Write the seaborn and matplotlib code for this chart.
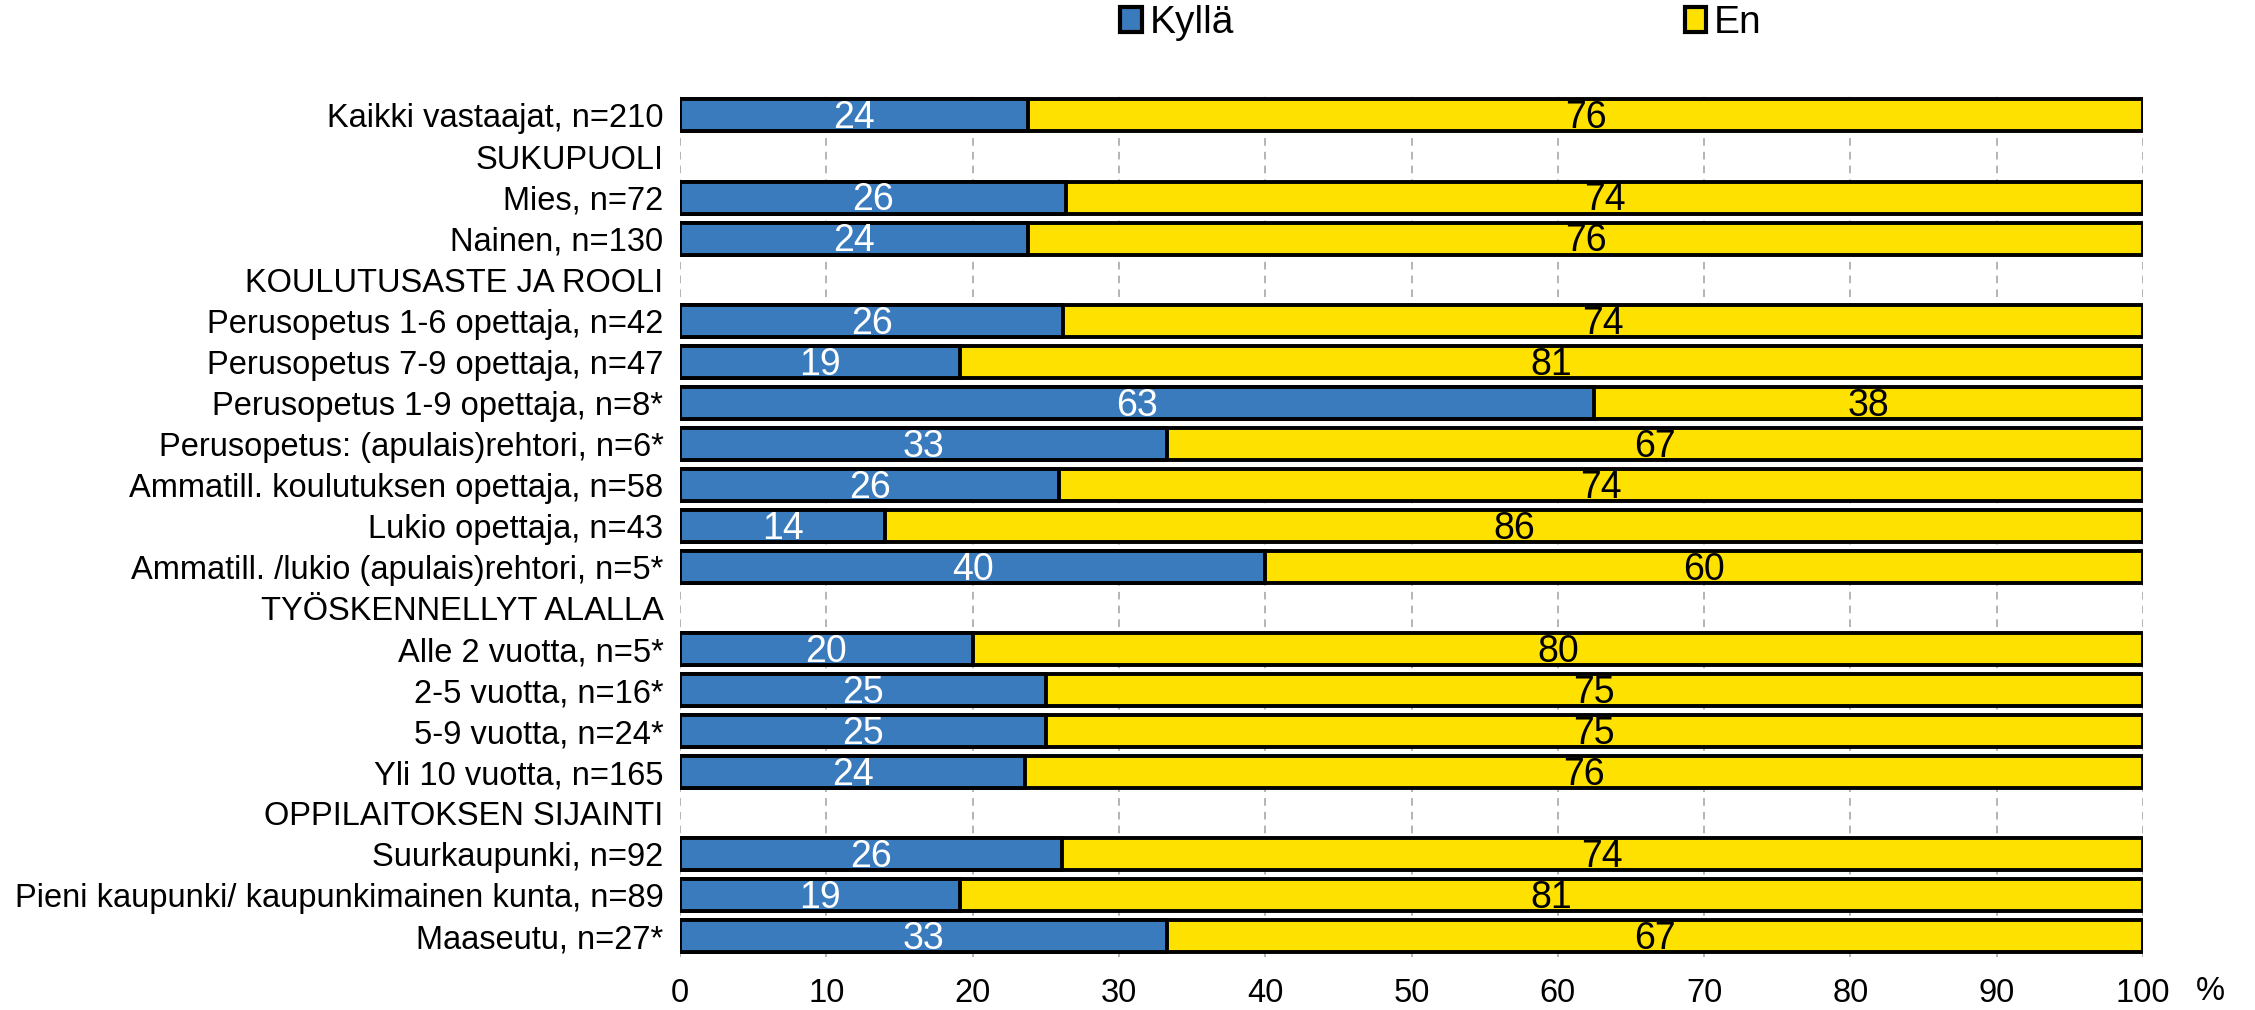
import matplotlib
matplotlib.use("Agg")
import matplotlib.pyplot as plt
import seaborn as sns
import numpy as np
import pandas as pd
from matplotlib.patches import Patch

categories = [
    "Kaikki vastaajat, n=210",
    "SUKUPUOLI",
    "Mies, n=72",
    "Nainen, n=130",
    "KOULUTUSASTE JA ROOLI",
    "Perusopetus 1-6 opettaja, n=42",
    "Perusopetus 7-9 opettaja, n=47",
    "Perusopetus 1-9 opettaja, n=8*",
    "Perusopetus: (apulais)rehtori, n=6*",
    "Ammatill. koulutuksen opettaja, n=58",
    "Lukio opettaja, n=43",
    "Ammatill. /lukio (apulais)rehtori, n=5*",
    "TYÖSKENNELLYT ALALLA",
    "Alle 2 vuotta, n=5*",
    "2-5 vuotta, n=16*",
    "5-9 vuotta, n=24*",
    "Yli 10 vuotta, n=165",
    "OPPILAITOKSEN SIJAINTI",
    "Suurkaupunki, n=92",
    "Pieni kaupunki/ kaupunkimainen kunta, n=89",
    "Maaseutu, n=27*",
]
nan = np.nan
kylla = [23.8, nan, 26.4, 23.8, nan, 26.2, 19.1, 62.5, 33.3, 25.9, 14.0, 40.0,
         nan, 20.0, 25.0, 25.0, 23.6, nan, 26.1, 19.1, 33.3]
en = [76.2, nan, 73.6, 76.2, nan, 73.8, 80.9, 37.5, 66.7, 74.1, 86.0, 60.0,
      nan, 80.0, 75.0, 75.0, 76.4, nan, 73.9, 80.9, 66.7]
series_names = ["Kyllä", "En"]
xticks = [0, 10, 20, 30, 40, 50, 60, 70, 80, 90, 100]

BLUE = "#3A7BBE"
YELLOW = "#FFE100"

sns.set_theme(style="white")
plt.rcParams["font.family"] = ["Liberation Sans", "DejaVu Sans"]
plt.rcParams["text.color"] = "black"

df = pd.DataFrame({"cat": categories, "kylla": kylla, "en": en})
df["total"] = df["kylla"] + df["en"]

fig = plt.figure(figsize=(22.55, 10.1), dpi=100)
ax = fig.add_axes([0.3016, 0.0525, 0.6487, 0.8535])

for xv in xticks:
    ax.axvline(xv, color="#A0A0A0", lw=1.1, ls=(0, (5, 4)), zorder=0)

sns.barplot(data=df, y="cat", x="total", order=categories, orient="h",
            color=YELLOW, edgecolor="black", linewidth=2.8, width=0.78,
            errorbar=None, ax=ax, zorder=2, saturation=1)
sns.barplot(data=df, y="cat", x="kylla", order=categories, orient="h",
            color=BLUE, edgecolor="black", linewidth=2.8, width=0.78,
            errorbar=None, ax=ax, zorder=3, saturation=1)

for i, (k, e) in enumerate(zip(kylla, en)):
    if np.isnan(k):
        continue
    ax.text(k / 2, i + 0.07, f"{int(k + 0.5)}", ha="center", va="center",
            color="white", fontsize=27, zorder=5)
    ax.text(k + e / 2, i + 0.07, f"{int(e + 0.5)}", ha="center", va="center",
            color="black", fontsize=27, zorder=5)

ax.set_xlim(0, 100)
ax.set_ylim(20.5, -0.5)
ax.set_xticks(xticks)
ax.set_xticklabels([str(v) for v in xticks])
ax.tick_params(axis="x", length=0, labelsize=23.5, pad=15, colors="black")
ax.tick_params(axis="y", length=0, labelsize=23.5, pad=12, colors="black")
ax.set_xlabel("")
ax.set_ylabel("")
for s in ax.spines.values():
    s.set_visible(False)
ax.grid(False)

ax.text(1.046, -0.022, "%", transform=ax.transAxes, ha="center", va="top",
        fontsize=23.5, color="black")

handles = [Patch(facecolor=BLUE, edgecolor="black", linewidth=3),
           Patch(facecolor=YELLOW, edgecolor="black", linewidth=3)]
fig.legend(handles, series_names, loc="center", bbox_to_anchor=(0.639, 0.977),
           ncol=2, frameon=False, fontsize=28, handlelength=0.55,
           handleheight=0.6, handletextpad=0.2, columnspacing=11.6,
           labelcolor="black")

fig.savefig("out.png", dpi=100)
